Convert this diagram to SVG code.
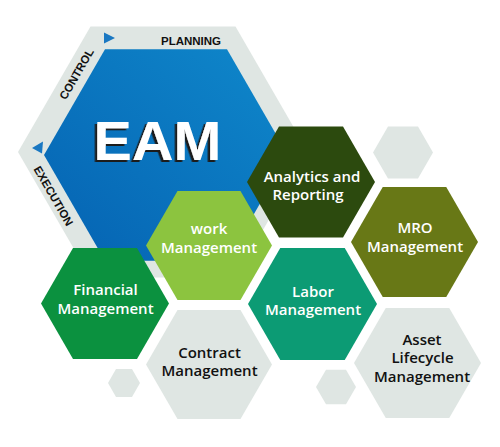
<svg xmlns="http://www.w3.org/2000/svg" width="500" height="447" viewBox="0 0 500 447">
<defs>
<linearGradient id="blueGrad" x1="0" y1="1" x2="1" y2="0">
<stop offset="0" stop-color="#0562b2"/>
<stop offset="1" stop-color="#0f88cb"/>
</linearGradient>
<filter id="shadow" x="-10%" y="-10%" width="120%" height="130%">
<feDropShadow dx="-2.5" dy="2" stdDeviation="0.3" flood-color="#1a1a1a" flood-opacity="1"/>
</filter>
<style>
.grey{fill:#dfe6e3}
.lbl{font-family:"Open Sans","Liberation Sans",sans-serif;font-weight:600;font-size:15px;fill:#ffffff;text-anchor:middle}
.dark{fill:#111111}
.ring{font-family:"Liberation Sans",Arial,sans-serif;font-weight:bold;font-size:11.5px;fill:#111111;text-anchor:middle}
.tri{fill:#1a78c2}
</style>
</defs>
<rect width="500" height="447" fill="#ffffff"/>
<g id="eam">
<polygon class="grey" points="18,152 90.5,26.4 235.5,26.4 308,152 235.5,277.6 90.5,277.6"/>
<polygon fill="url(#blueGrad)" points="44,155 105,49.3 227,49.3 288,155 227,260.7 105,260.7"/>
<polygon class="tri" points="104,32.5 115,38 104,43.5"/>
<polygon class="tri" points="32,148 43,141.5 42,153.5"/>
<text class="ring" x="191" y="45">PLANNING</text>
<text class="ring" transform="translate(80,76) rotate(-60)">CONTROL</text>
<text class="ring" transform="translate(50,198) rotate(60)">EXECUTION</text>
<text x="157.5" y="160" font-family="Liberation Sans,Arial,sans-serif" font-weight="bold" font-size="56" fill="#ffffff" text-anchor="middle" textLength="128" lengthAdjust="spacingAndGlyphs" filter="url(#shadow)">EAM</text>
</g>
<g id="deco">
<polygon class="grey" points="373,152.5 388,126.5 418,126.5 433,152.5 418,178.5 388,178.5"/>
<polygon class="grey" points="108,383 116,369.1 132,369.1 140,383 132,396.9 116,396.9"/>
<polygon class="grey" points="316,387 326,369.7 346,369.7 356,387 346,404.3 326,404.3"/>
</g>
<g id="analytics">
<polygon fill="#2c4a0e" points="247,182 279,126.6 343,126.6 375,182 343,237.4 279,237.4"/>
<text class="lbl" x="312" y="182">Analytics and</text>
<text class="lbl" x="308" y="200">Reporting</text>
</g>
<g id="mro">
<polygon fill="#687816" points="351,242 382.75,187 446.25,187 478,242 446.25,297 382.75,297"/>
<text class="lbl" x="415" y="233">MRO</text>
<text class="lbl" x="415" y="252">Management</text>
</g>
<g id="labor">
<polygon fill="#0c9b74" points="248,304 280.25,248.1 344.75,248.1 377,304 344.75,359.9 280.25,359.9"/>
<text class="lbl" x="313" y="297">Labor</text>
<text class="lbl" x="313" y="315">Management</text>
</g>
<g id="work">
<polygon fill="#8cc43f" points="146,245.5 177.5,190.9 240.5,190.9 272,245.5 240.5,300.1 177.5,300.1"/>
<text class="lbl" x="209" y="234">work</text>
<text class="lbl" x="209" y="253">Management</text>
</g>
<g id="financial">
<polygon fill="#0b913f" points="41,303.5 73,248.1 137,248.1 169,303.5 137,358.9 73,358.9"/>
<text class="lbl" x="105.5" y="295">Financial</text>
<text class="lbl" x="105.5" y="314">Management</text>
</g>
<g id="contract">
<polygon class="grey" points="146,364.5 177.5,309.9 240.5,309.9 272,364.5 240.5,419.1 177.5,419.1"/>
<text class="lbl dark" x="209.5" y="358" font-size="16.5">Contract</text>
<text class="lbl dark" x="209.5" y="376">Management</text>
</g>
<g id="asset">
<polygon class="grey" points="354,363 385.75,308 449.25,308 481,363 449.25,418 385.75,418"/>
<text class="lbl dark" x="422" y="345" font-size="16.5">Asset</text>
<text class="lbl dark" x="422.5" y="363" font-size="16.5">Lifecycle</text>
<text class="lbl dark" x="422" y="382">Management</text>
</g>
<g id="connectors"></g>
</svg>
